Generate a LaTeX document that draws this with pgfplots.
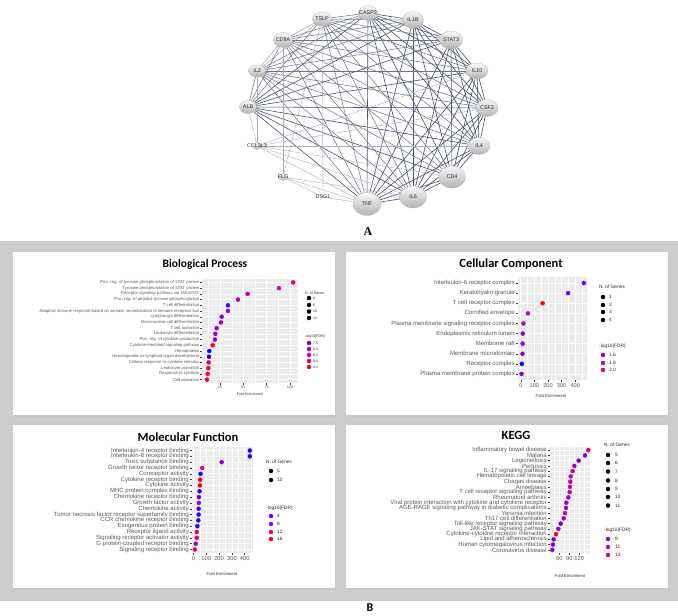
\documentclass[border=0pt]{standalone}
\usepackage{fontspec}
\setmainfont{Liberation Sans}
\newfontfamily\titlefont{Carlito}
\newfontfamily\seriffont{Liberation Serif}
\usepackage{pgfplots}
\pgfplotsset{compat=1.18}
\usetikzlibrary{shapes.geometric}

\newcommand\fs[1]{\fontsize{#1}{#1}\selectfont}
\definecolor{ggbg}{HTML}{EBEBEB}
\definecolor{band}{HTML}{CDCDCD}
\definecolor{labgray}{HTML}{5A5A5A}
\definecolor{edark}{HTML}{4C5266}
\definecolor{emid}{HTML}{6E7383}
\definecolor{elight}{HTML}{9094A0}
\definecolor{efaint}{HTML}{ABAFB7}

\pgfplotsset{
  /pgf/number format/assume math mode=true,
  colormap={ggbr}{rgb255=(0,0,255) rgb255=(125,0,235) rgb255=(180,0,190) rgb255=(225,0,120) rgb255=(255,0,0)},
  dotplot/.style={
    scatter, only marks, mark=*,
    point meta=\thisrow{c},
    visualization depends on={\thisrow{s}\as\ms},
    scatter/@pre marker code/.append style={/tikz/mark size=\ms},
    scatter/use mapped color={draw=mapped color, fill=mapped color},
  },
  sizedots/.style={dotplot, scatter/use mapped color={draw=black, fill=black}},
  ggpanel/.style={
    scale only axis, clip=false, y dir=reverse,
    axis background/.style={fill=ggbg},
    axis line style={draw=none},
    xmajorgrids, xminorgrids, ymajorgrids,
    major grid style={white, line width=0.6pt},
    minor grid style={white, line width=0.3pt},
    tick align=outside, xtick pos=left, ytick pos=left,
    major tick length=2pt, minor tick length=0pt,
    tick style={black!75, line width=0.4pt},
    colormap name=ggbr, point meta min=0, point meta max=1,
    xticklabel style={text=labgray, inner sep=1pt},
    yticklabel style={text=labgray, inner sep=1pt, anchor=east},
  },
}
\tikzset{
  edge2/.style={color=edark, line width=0.6pt},
  edge1/.style={color=emid, line width=0.5pt},
  edge0/.style={color=elight, line width=0.45pt},
  edgef/.style={color=efaint, line width=0.4pt},
}

% network nodes: name, x, y, ball width, ball height, weight
\newcommand\setnode[6]{%
  \expandafter\def\csname x#1\endcsname{#2}%
  \expandafter\def\csname y#1\endcsname{#3}%
  \expandafter\def\csname w#1\endcsname{#4}%
  \expandafter\def\csname h#1\endcsname{#5}%
  \expandafter\def\csname k#1\endcsname{#6}}
\setnode{CASP3}{368}{13}{19}{15}{1}
\setnode{IL1B}{413}{20}{21}{17}{1}
\setnode{STAT3}{451}{40}{23}{18}{1}
\setnode{IL10}{477}{71}{22}{16}{1}
\setnode{CSF2}{487}{108}{22}{17}{1}
\setnode{IL4}{479}{146}{22}{17}{1}
\setnode{CD4}{452}{177}{27}{22}{1}
\setnode{IL6}{413}{197}{27}{22}{1}
\setnode{TNF}{367}{204}{28}{23}{1}
\setnode{DSG1}{323}{197}{0.1}{0.1}{0}
\setnode{FLG}{283}{177}{10}{7}{0}
\setnode{CCL3L3}{257}{146}{8}{7}{0}
\setnode{ALB}{248}{107}{17}{13}{1}
\setnode{IL2}{257}{71}{17}{12}{0}
\setnode{CD8A}{283}{40}{19}{15}{0}
\setnode{TSLP}{322}{19}{19}{14}{0}
\def\mainlist{CASP3,IL1B,STAT3,IL10,CSF2,IL4,CD4,IL6,TNF,ALB,IL2,CD8A,TSLP}
\def\alllist{CASP3,IL1B,STAT3,IL10,CSF2,IL4,CD4,IL6,TNF,DSG1,FLG,CCL3L3,ALB,IL2,CD8A,TSLP}

\newcommand\edgeplot[3]{%
  \edef\temp{\noexpand\addplot[#1] coordinates {(\csname x#2\endcsname,\csname y#2\endcsname) (\csname x#3\endcsname,\csname y#3\endcsname)};}%
  \temp}

\begin{document}
\begin{tikzpicture}
\begin{scope}[x=1pt,y=-1pt]
  \path[use as bounding box, fill=white] (0,0) rectangle (678,616);
  \fill[band] (0,241) rectangle (678,601);
  \foreach \xa/\ya/\xb/\yb in {13/252/335/415, 346/252/668/415, 13/425/335/588, 346/425/668/588} {
    \fill[black!22] (\xa+1,\ya+1) rectangle (\xb+1,\yb+2);
    \fill[white] (\xa,\ya) rectangle (\xb,\yb);
  }
\end{scope}

% canvas axis in pixel units: network and legends
\begin{axis}[at={(0pt,0pt)}, anchor=north west, scale only axis,
  width=678pt, height=616pt, xmin=0, xmax=678, ymin=0, ymax=616,
  y dir=reverse, hide axis, clip=false,
  colormap name=ggbr, point meta min=0, point meta max=1]

  % edges among the main nodes
  \foreach \a [count=\i] in \mainlist {
    \foreach \b [count=\j] in \mainlist {
      \ifnum\j>\i
        \pgfmathtruncatemacro\ew{\csname k\a\endcsname+\csname k\b\endcsname}
        \edgeplot{edge\ew}{\a}{\b}
      \fi
    }
  }
  % edges of the small nodes
  \foreach \a/\b in {CCL3L3/ALB, CCL3L3/IL2, CCL3L3/TNF, CCL3L3/IL6, CCL3L3/CD4,
      CCL3L3/IL10, CCL3L3/CSF2, CCL3L3/IL4, FLG/CD8A, FLG/DSG1, FLG/TNF,
      FLG/IL6, FLG/TSLP, DSG1/TSLP, DSG1/TNF} {
    \edgeplot{edgef}{\a}{\b}
  }
  % balls
  \foreach \n in \alllist {
    \edef\temp{\noexpand\addplot[draw=none, mark=none, nodes near coords={\noexpand\hbox{}},
      nodes near coords align={center},
      every node near coord/.style={anchor=center, ellipse, top color=gray!6, bottom color=gray!60,
        draw=gray!60, line width=0.25pt, inner sep=0pt,
        minimum width=\csname w\n\endcsname pt, minimum height=\csname h\n\endcsname pt}]
      coordinates {(\csname x\n\endcsname,\csname y\n\endcsname)};}
    \temp
  }
  % labels
  \foreach \n in \alllist {
    \edef\temp{\noexpand\addplot[draw=none, mark=none, nodes near coords={\n},
      nodes near coords align={center},
      every node near coord/.style={anchor=center, inner sep=0pt,
        font=\noexpand\fs{5.4}, text=black!80}]
      coordinates {(\csname x\n\endcsname,\csname y\n\endcsname)};}
    \temp
  }

  % legends: Biological Process
  \addplot[sizedots] table {
x y c s
309 298 0 0.5
309 305 0 0.9
309 311.5 0 1.3
309 318 0 1.6
};
  \addplot[dotplot] table {
x y c s
309 343 0.20 2.0
309 349 0.40 2.0
309 355 0.60 2.0
309 361 0.80 2.0
309 367 0.95 2.0
};
  % Cellular Component
  \addplot[sizedots] table {
x y c s
603 297 0 0.6
603 305 0 1.2
603 312 0 1.6
603 320 0 1.9
};
  \addplot[dotplot] table {
x y c s
603 355 0.25 2.6
603 363 0.55 2.6
603 370 0.85 2.6
};
  % Molecular Function
  \addplot[sizedots] table {
x y c s
271 471 0 1.2
271 480 0 1.9
};
  \addplot[dotplot] table {
x y c s
271 516 0.20 2.6
271 524 0.45 2.6
271 532 0.75 2.6
271 539 1.00 2.6
};
  % KEGG
  \addplot[sizedots] table {
x y c s
608 455 0 0.6
608 463 0 0.9
608 471.5 0 1.1
608 480.5 0 1.3
608 489 0 1.5
608 497 0 1.7
608 505.5 0 1.9
};
  \addplot[dotplot] table {
x y c s
608 539 0.30 2.6
608 547 0.60 2.6
608 555 0.85 2.6
};
\end{axis}

% Biological Process
\begin{axis}[ggpanel, at={(202pt,-383pt)}, anchor=south west, width=96pt, height=104pt,
  xmin=5.7, xmax=108.6, ymin=-0.6, ymax=17.6,
  xtick={25,50,75,100}, minor xtick={12.5,37.5,62.5,87.5},
  ytick={0,...,17},
  yticklabels={Pos. reg. of tyrosine phosphorylation of STAT protein,
    Tyrosine phosphorylation of STAT protein,
    Receptor signaling pathway via JAK/STAT,
    Pos. reg. of peptidyl-tyrosine phosphorylation,
    T cell differentiation,
    Adaptive immune response based on somatic recombination of immune receptors buil,
    Lymphocyte differentiation,
    Mononuclear cell differentiation,
    T cell activation,
    Leukocyte differentiation,
    Pos. reg. of cytokine production,
    Cytokine-mediated signaling pathway,
    Hemopoiesis,
    Hematopoietic or lymphoid organ development,
    Cellular response to cytokine stimulus,
    Leukocyte activation,
    Response to cytokine,
    Cell activation},
  yticklabel style={font=\fs{4.2}}, xticklabel style={font=\fs{3.8}},
  major tick length=1.5pt]
\addplot[dotplot] table {
x y c s
103.5 0 0.70 0.6
88.2 1 0.65 0.6
54.6 2 0.60 0.9
44.3 3 0.55 1.0
33.5 4 0.15 1.1
33.5 5 0.40 1.1
26.8 6 0.30 1.3
26.0 7 0.40 1.3
21.4 8 0.35 1.4
20.0 9 0.35 1.4
19.6 10 0.35 1.4
17.1 11 0.95 1.6
13.5 12 0.05 1.6
13.2 13 0.05 1.6
12.8 14 0.80 1.7
12.5 15 0.90 1.8
11.8 16 0.80 1.8
11.0 17 0.85 1.9
};
\end{axis}

% Cellular Component
\begin{axis}[ggpanel, at={(518pt,-380pt)}, anchor=south west, width=69pt, height=103pt,
  xmin=-20, xmax=486, ymin=-0.6, ymax=9.6,
  xtick={0,100,200,300,400}, minor xtick={50,150,250,350,450},
  ytick={0,...,9},
  yticklabels={Interleukin-6 receptor complex,
    Keratohyalin granule,
    T cell receptor complex,
    Cornified envelope,
    Plasma membrane signaling receptor complex,
    Endoplasmic reticulum lumen,
    Membrane raft,
    Membrane microdomain,
    Receptor complex,
    Plasma membrane protein complex},
  yticklabel style={font=\fs{6}}, xticklabel style={font=\fs{5.6}}]
\addplot[dotplot] table {
x y c s
463 0 0.25 0.7
347 1 0.25 0.7
160 2 1.00 1.8
53 3 0.50 1.9
20 4 0.55 2.3
15 5 0.30 2.2
14 6 0.30 2.2
13 7 0.30 2.3
8 8 0.05 2.3
6 9 0.30 2.4
};
\end{axis}

% Molecular Function
\begin{axis}[ggpanel, at={(192pt,-553pt)}, anchor=south west, width=61pt, height=106pt,
  xmin=-12, xmax=465, ymin=-0.6, ymax=17.6,
  xtick={0,100,200,300,400}, minor xtick={50,150,250,350,450},
  ytick={0,...,17},
  yticklabels={Interleukin-4 receptor binding,
    Interleukin-8 receptor binding,
    Toxic substance binding,
    Growth factor receptor binding,
    Coreceptor activity,
    Cytokine receptor binding,
    Cytokine activity,
    MHC protein complex binding,
    Chemokine receptor binding,
    Growth factor activity,
    Chemokine activity,
    Tumor necrosis factor receptor superfamily binding,
    CCR chemokine receptor binding,
    Exogenous protein binding,
    Receptor ligand activity,
    Signaling receptor activator activity,
    G protein-coupled receptor binding,
    Signaling receptor binding},
  yticklabel style={font=\fs{6}}, xticklabel style={font=\fs{5.8}}]
\addplot[dotplot] table {
x y c s
440 0 0.05 0.8
440 1 0.05 0.8
220 2 0.30 1.3
68 3 0.70 1.8
55 4 0.05 1.2
52 5 1.00 2.5
50 6 0.95 2.5
47 7 0.10 1.4
42 8 0.15 1.5
42 9 0.40 1.6
40 10 0.10 1.4
40 11 0.10 1.4
38 12 0.10 1.4
30 13 0.10 1.5
25 14 0.80 2.2
25 15 0.80 2.2
17 16 0.30 1.8
10 17 0.80 2.4
};
\end{axis}

% KEGG
\begin{axis}[ggpanel, at={(550pt,-553pt)}, anchor=south west, width=40pt, height=106pt,
  xmin=32, xmax=152, ymin=-0.6, ymax=19.6,
  xtick={60,90,120}, minor xtick={45,75,105,135},
  ytick={0,...,19},
  yticklabels={Inflammatory bowel disease,
    Malaria,
    Legionellosis,
    Pertussis,
    IL-17 signaling pathway,
    Hematopoietic cell lineage,
    Chagas disease,
    Amoebiasis,
    T cell receptor signaling pathway,
    Rheumatoid arthritis,
    Viral protein interaction with cytokine and cytokine receptor,
    AGE-RAGE signaling pathway in diabetic complications,
    Yersinia infection,
    Th17 cell differentiation,
    Toll-like receptor signaling pathway,
    JAK-STAT signaling pathway,
    Cytokine-cytokine receptor interaction,
    Lipid and atherosclerosis,
    Human cytomegalovirus infection,
    Coronavirus disease},
  yticklabel style={font=\fs{6}}, xticklabel style={font=\fs{5.8}}]
\addplot[dotplot] table {
x y c s
147 0 0.75 1.6
137 1 0.30 0.8
118 2 0.30 0.9
105 3 0.45 1.3
100 4 0.60 1.6
94 5 0.65 1.7
93 6 0.60 1.7
92 7 0.60 1.8
91 8 0.60 1.7
87 9 0.40 1.4
81 10 0.35 1.4
80 11 0.35 1.5
77 12 0.70 1.9
73 13 0.40 1.4
64 14 0.20 0.8
57 15 0.45 1.6
50 16 1.00 2.5
43 17 0.30 1.6
41 18 0.30 1.6
39 19 0.30 1.7
};
\end{axis}

% texts
\begin{scope}[x=1pt,y=-1pt]
  \node[font=\titlefont\bfseries\fs{11.5}] at (205,264) {Biological Process};
  \node[font=\titlefont\bfseries\fs{12.5}] at (511,264) {Cellular Component};
  \node[font=\titlefont\bfseries\fs{12.5}] at (188,437) {Molecular Function};
  \node[font=\titlefont\bfseries\fs{12.5}] at (516,435) {KEGG};
  \node[font=\fs{3.6}, text=black!80] at (250,394) {Fold Enrichment};
  \node[font=\fs{4.2}, text=black!80] at (551,396) {Fold Enrichment};
  \node[font=\fs{4.2}, text=black!80] at (222,574) {Fold Enrichment};
  \node[font=\fs{4.2}, text=black!80] at (570,576) {Fold Enrichment};
  % legend texts
  \begin{scope}[every node/.style={anchor=west, inner sep=0pt, text=black!85}]
    \node[font=\fs{3.6}] at (305,293) {N. of Genes};
    \node[font=\fs{3.6}] at (305,337) {-log10(FDR)};
    \foreach \t/\y in {6/298, 8/305, 10/311.5, 12/318}
      \node[font=\fs{3.4}] at (313,\y) {\t};
    \foreach \t/\y in {7.5/343, 8.0/349, 8.5/355, 9.0/361, 9.5/367}
      \node[font=\fs{3.4}] at (313,\y) {\t};
    \node[font=\fs{4.8}] at (599,287) {N. of Genes};
    \node[font=\fs{4.8}] at (599,346) {-log10(FDR)};
    \foreach \t/\y in {1/297, 2/305, 3/312, 4/320}
      \node[font=\fs{4.8}] at (609,\y) {\t};
    \foreach \t/\y in {1.6/355, 1.8/363, 2.0/370}
      \node[font=\fs{4.8}] at (609,\y) {\t};
    \node[font=\fs{4.8}] at (266,462) {N. of Genes};
    \node[font=\fs{4.8}] at (266,508) {-log10(FDR)};
    \foreach \t/\y in {5/471, 10/480}
      \node[font=\fs{4.8}] at (277,\y) {\t};
    \foreach \t/\y in {4/516, 8/524, 12/532, 16/539}
      \node[font=\fs{4.8}] at (277,\y) {\t};
    \node[font=\fs{4.8}] at (604,445) {N. of Genes};
    \node[font=\fs{4.8}] at (604,530) {-log10(FDR)};
    \foreach \t/\y in {5/455, 6/463, 7/471.5, 8/480.5, 9/489, 10/497, 11/505.5}
      \node[font=\fs{4.8}] at (615,\y) {\t};
    \foreach \t/\y in {9/539, 11/547, 13/555}
      \node[font=\fs{4.8}] at (615,\y) {\t};
  \end{scope}
  \node[font=\seriffont\bfseries\fs{12}] at (368,232) {A};
  \node[font=\titlefont\bfseries\fs{12}] at (370,608) {B};
\end{scope}
\end{tikzpicture}
\end{document}
